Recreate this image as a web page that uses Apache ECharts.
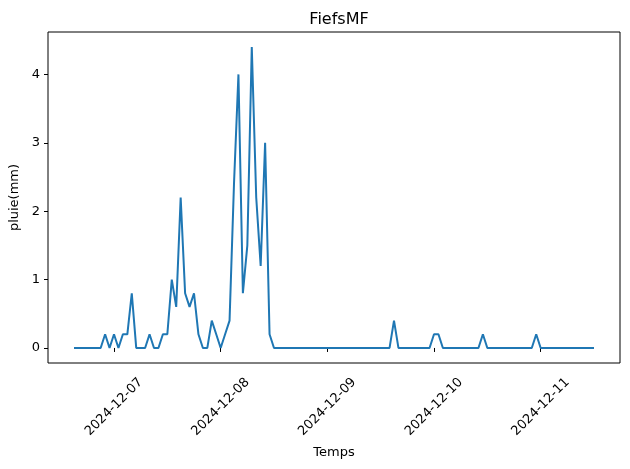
<!DOCTYPE html>
<html>
<head>
<meta charset="utf-8">
<title>FiefsMF</title>
<script src="https://cdn.jsdelivr.net/npm/echarts@6/dist/echarts.min.js"></script>
<style>
  html, body { margin: 0; padding: 0; background: #fff; }
  #chart { width: 630px; height: 469px; }
</style>
</head>
<body>
<div id="chart"></div>
<script>
// hourly rain readings, first one at 2024-12-06 15:00
const startTime = new Date(2024, 11, 6, 15, 0, 0).getTime()
const HOUR = 3600 * 1000

const pluie = [
  0, 0, 0, 0, 0, 0, 0, 0.2, 0, 0.2,
  0, 0.2, 0.2, 0.8, 0, 0, 0, 0.2, 0, 0,
  0.2, 0.2, 1.0, 0.6, 2.2, 0.8, 0.6, 0.8, 0.2, 0,
  0, 0.4, 0.2, 0, 0.2, 0.4, 2.4, 4.0, 0.8, 1.5,
  4.4, 2.2, 1.2, 3.0, 0.2, 0, 0, 0, 0, 0,
  0, 0, 0, 0, 0, 0, 0, 0, 0, 0,
  0, 0, 0, 0, 0, 0, 0, 0, 0, 0,
  0, 0, 0.4, 0, 0, 0, 0, 0, 0, 0,
  0, 0.2, 0.2, 0, 0, 0, 0, 0, 0, 0,
  0, 0, 0.2, 0, 0, 0, 0, 0, 0, 0,
  0, 0, 0, 0, 0.2, 0, 0, 0, 0, 0,
  0, 0, 0, 0, 0, 0, 0, 0
]

const dayTicks = ['2024-12-07', '2024-12-08', '2024-12-09', '2024-12-10', '2024-12-11']
const yTicks = [0, 1, 2, 3, 4]

const times = pluie.map((_, i) => startTime + i * HOUR)
const dayTickValues = dayTicks.map(d => {
  const p = d.split('-').map(Number)
  return new Date(p[0], p[1] - 1, p[2]).getTime()
})

// matplotlib style 5% margins
const span = times[times.length - 1] - times[0]
const xMin = times[0] - span * 0.05
const xMax = times[times.length - 1] + span * 0.05
const yMaxData = Math.max(...pluie)
const yMin = -yMaxData * 0.05
const yMax = yMaxData * 1.05

const FONT = 'DejaVu Sans'

function dayLabel(v) {
  const i = dayTickValues.indexOf(v)
  return i >= 0 ? dayTicks[i] : ''
}

const chart = echarts.init(document.getElementById('chart'))

chart.setOption({
  backgroundColor: '#fff',
  animation: false,
  title: {
    text: 'FiefsMF',
    left: 334,
    top: 7,
    textAlign: 'center',
    textStyle: { fontFamily: FONT, fontSize: 16, fontWeight: 'normal', color: '#000' }
  },
  grid: {
    left: 48,
    right: 10,
    top: 32,
    bottom: 106,
    show: true,
    borderColor: '#000',
    borderWidth: 1,
    outerBoundsMode: 'none',
    containLabel: false
  },
  xAxis: {
    type: 'value',
    min: xMin,
    max: xMax,
    name: 'Temps',
    nameLocation: 'middle',
    nameGap: 83,
    nameTextStyle: { fontFamily: FONT, fontSize: 13, color: '#000' },
    axisLine: { show: false },
    axisTick: {
      show: true,
      length: 4,
      lineStyle: { color: '#000', width: 1 },
      customValues: dayTickValues
    },
    axisLabel: {
      customValues: dayTickValues,
      rotate: 45,
      align: 'center',
      verticalAlign: 'middle',
      margin: 44,
      fontFamily: FONT,
      fontSize: 13,
      color: '#000',
      formatter: dayLabel
    },
    splitLine: { show: false }
  },
  yAxis: {
    type: 'value',
    min: yMin,
    max: yMax,
    name: 'pluie(mm)',
    nameLocation: 'middle',
    nameGap: 25,
    nameTextStyle: { fontFamily: FONT, fontSize: 13, color: '#000' },
    axisLine: { show: false },
    axisTick: {
      show: true,
      length: 4,
      lineStyle: { color: '#000', width: 1 },
      customValues: yTicks
    },
    axisLabel: {
      customValues: yTicks,
      margin: 8,
      fontFamily: FONT,
      fontSize: 13,
      color: '#000'
    },
    splitLine: { show: false }
  },
  series: [
    {
      type: 'line',
      data: times.map((t, i) => [t, pluie[i]]),
      showSymbol: false,
      symbol: 'none',
      lineStyle: { color: '#1f77b4', width: 2 },
      itemStyle: { color: '#1f77b4' }
    }
  ]
})
</script>
</body>
</html>
